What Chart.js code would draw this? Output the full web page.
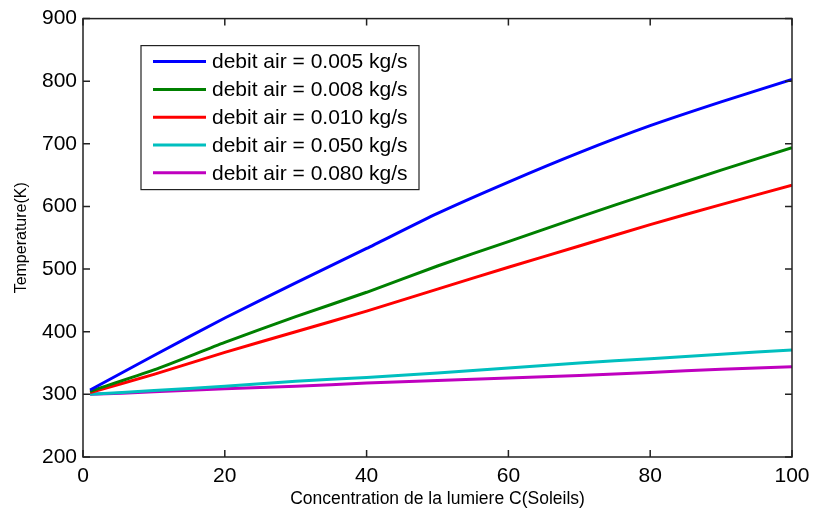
<!DOCTYPE html>
<html>
<head>
<meta charset="utf-8">
<script src="https://cdn.jsdelivr.net/npm/chart.js@4"></script>
<style>
  html, body { margin: 0; padding: 0; background: #fff; }
  #wrap { width: 818px; height: 510px; position: relative; }
</style>
</head>
<body>
<div id="wrap"><canvas id="myChart"></canvas></div>
<script>
// concentration C (soleils)
const concentration = [1, 10, 20, 30, 40, 50, 60, 70, 80, 90, 100];

// temperature (K) for each air flow
const temp005 = [307, 362, 422, 478, 533, 589, 639, 686, 729, 767, 803];
const temp008 = [305, 339, 383, 424, 463, 505, 544, 583, 621, 658, 694];
const temp010 = [303, 332, 367, 400, 433, 468, 503, 537, 571, 603, 634];
const temp050 = [300, 306, 313, 321, 327, 334, 342, 350, 357, 364, 371];
const temp080 = [300, 304, 309, 313, 318, 322, 326, 330, 335, 340, 344];

const seriesLabels = [
    'debit air = 0.005 kg/s',
    'debit air = 0.008 kg/s',
    'debit air = 0.010 kg/s',
    'debit air = 0.050 kg/s',
    'debit air = 0.080 kg/s'
];
const seriesColors = ['#0000ff', '#008000', '#ff0000', '#00bfbf', '#bf00bf'];
const seriesValues = [temp005, temp008, temp010, temp050, temp080];

const axisColor = '#222';
const font = 'Liberation Sans, Arial, sans-serif';

function toPoints(values) {
    return concentration.map((c, i) => ({ x: c, y: values[i] }));
}

// box round the plot with inward ticks on all four sides + legend inside
const matlabBox = {
    id: 'matlabBox',
    afterDraw(chart) {
        const ctx = chart.ctx;
        const a = chart.chartArea;
        const xs = chart.scales.x, ys = chart.scales.y;
        const tl = 7;
        ctx.save();
        ctx.strokeStyle = axisColor;
        ctx.lineWidth = 1.5;
        ctx.strokeRect(a.left, a.top, a.right - a.left, a.bottom - a.top);
        ctx.beginPath();
        xs.ticks.forEach(t => {
            const px = xs.getPixelForValue(t.value);
            ctx.moveTo(px, a.bottom); ctx.lineTo(px, a.bottom - tl);
            ctx.moveTo(px, a.top); ctx.lineTo(px, a.top + tl);
        });
        ys.ticks.forEach(t => {
            const py = ys.getPixelForValue(t.value);
            ctx.moveTo(a.left, py); ctx.lineTo(a.left + tl, py);
            ctx.moveTo(a.right, py); ctx.lineTo(a.right - tl, py);
        });
        ctx.stroke();

        // legend
        const bx = a.left + 58, by = a.top + 27, bw = 278, bh = 144;
        ctx.fillStyle = '#fff';
        ctx.fillRect(bx, by, bw, bh);
        ctx.lineWidth = 1.2;
        ctx.strokeRect(bx, by, bw, bh);
        ctx.font = '21px ' + font;
        ctx.textBaseline = 'middle';
        chart.data.datasets.forEach((ds, i) => {
            const y = by + 16 + i * 27.8;
            ctx.strokeStyle = ds.borderColor;
            ctx.lineWidth = 3;
            ctx.beginPath();
            ctx.moveTo(bx + 12, y);
            ctx.lineTo(bx + 65, y);
            ctx.stroke();
            ctx.fillStyle = '#000';
            ctx.fillText(ds.label, bx + 71, y + 1);
        });
        ctx.restore();
    }
};

const ctx = document.getElementById('myChart').getContext('2d');
const myChart = new Chart(ctx, {
    type: 'line',
    data: {
        datasets: seriesValues.map((vals, i) => ({
            label: seriesLabels[i],
            data: toPoints(vals),
            borderColor: seriesColors[i],
            backgroundColor: seriesColors[i],
            borderWidth: 3,
            pointRadius: 0,
            fill: false,
            tension: 0.2
        }))
    },
    options: {
        responsive: true,
        maintainAspectRatio: false,
        animation: false,
        layout: { padding: { top: 16, right: 26, bottom: 0, left: 0 } },
        plugins: {
            legend: { display: false },
            tooltip: { enabled: false }
        },
        scales: {
            x: {
                type: 'linear',
                min: 0,
                max: 100,
                border: { display: false },
                grid: { display: false, drawTicks: false },
                ticks: {
                    stepSize: 20,
                    padding: 7,
                    color: '#000',
                    maxRotation: 0,
                    font: { family: font, size: 21 }
                },
                title: {
                    display: true,
                    text: 'Concentration de la lumiere C(Soleils)',
                    color: '#000',
                    padding: { top: 0, bottom: 0 },
                    font: { family: font, size: 17.5 }
                },
                afterFit: function(scale) { scale.height = 53; }
            },
            y: {
                min: 200,
                max: 900,
                border: { display: false },
                grid: { display: false, drawTicks: false },
                ticks: {
                    stepSize: 100,
                    padding: 6,
                    color: '#000',
                    font: { family: font, size: 21 }
                },
                title: {
                    display: true,
                    text: 'Temperature(K)',
                    color: '#000',
                    padding: { top: 12, bottom: 0 },
                    font: { family: font, size: 16 }
                },
                afterFit: function(scale) { scale.width = 83; }
            }
        }
    },
    plugins: [matlabBox]
});
</script>
</body>
</html>
